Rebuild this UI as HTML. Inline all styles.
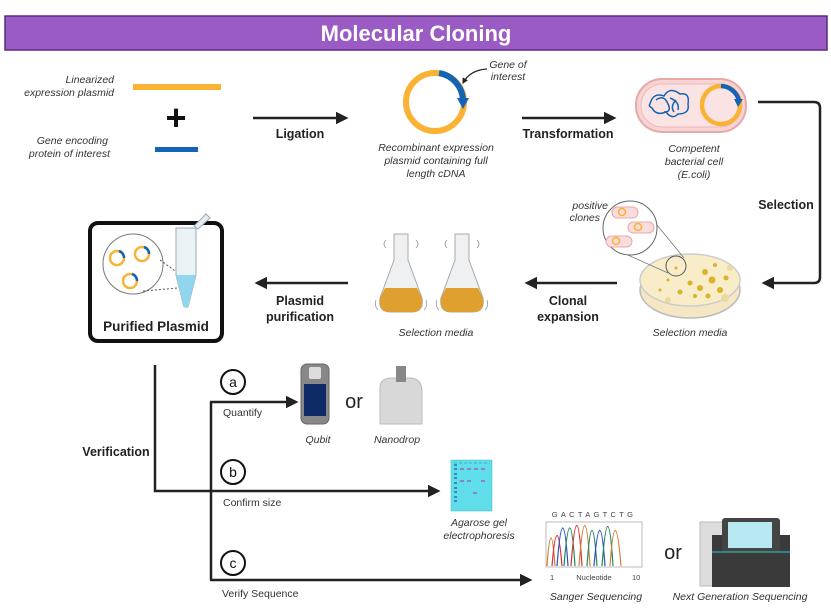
<!DOCTYPE html>
<html><head><meta charset="utf-8"><style>
html,body{margin:0;padding:0;background:#fff;}
svg{display:block;font-family:"Liberation Sans",sans-serif;}
.it{font-style:italic;font-size:10.5px;fill:#333;}
.b{font-weight:bold;font-size:12.5px;fill:#222;}
.s{font-size:10.5px;fill:#333;}
</style></head><body>
<svg width="831" height="614" viewBox="0 0 831 614" xmlns="http://www.w3.org/2000/svg">
<defs>
<marker id="ah" viewBox="0 0 10 10" refX="8" refY="5" markerWidth="5" markerHeight="5" orient="auto"><path d="M0,0 L10,5 L0,10 z" fill="#222"/></marker>
</defs>
<rect x="5" y="16" width="822" height="34" fill="#9b5bc4" stroke="#5b2c80" stroke-width="1.5"/>
<text x="416" y="41" text-anchor="middle" fill="#fff" font-weight="bold" font-size="22">Molecular Cloning</text>

<text class="it" x="114" y="83" text-anchor="end">Linearized</text>
<text class="it" x="114" y="96" text-anchor="end">expression plasmid</text>
<rect x="133" y="84" width="88" height="6" fill="#f9b233"/>
<text x="176" y="130" text-anchor="middle" font-size="36" font-weight="bold" fill="#111">+</text>
<text class="it" x="108" y="144" text-anchor="end">Gene encoding</text>
<text class="it" x="110" y="157" text-anchor="end">protein of interest</text>
<rect x="155" y="147" width="43" height="5" fill="#1464b4"/>

<line x1="253" y1="118" x2="346" y2="118" stroke="#222" stroke-width="2.5" marker-end="url(#ah)"/>
<text class="b" x="300" y="138" text-anchor="middle">Ligation</text>

<circle cx="435" cy="102" r="29" fill="none" stroke="#f9b233" stroke-width="6"/>
<path d="M439,73 A29,29 0 0 1 463,100" fill="none" stroke="#1464b4" stroke-width="6"/>
<path d="M457,98 L469,98 L463,109 z" fill="#1464b4"/>
<path d="M487,69 Q470,70 463,83" fill="none" stroke="#222" stroke-width="1.2" marker-end="url(#ah)"/>
<text class="it" x="508" y="68" text-anchor="middle">Gene of</text>
<text class="it" x="508" y="80" text-anchor="middle">interest</text>
<text class="it" x="436" y="151" text-anchor="middle">Recombinant expression</text>
<text class="it" x="436" y="164" text-anchor="middle">plasmid containing full</text>
<text class="it" x="436" y="177" text-anchor="middle">length cDNA</text>

<line x1="522" y1="118" x2="614" y2="118" stroke="#222" stroke-width="2.5" marker-end="url(#ah)"/>
<text class="b" x="568" y="138" text-anchor="middle">Transformation</text>

<rect x="636" y="79" width="110" height="53" rx="26" fill="#f7d3d3" stroke="#e8a8a8" stroke-width="2"/>
<rect x="641" y="84" width="100" height="43" rx="21" fill="#fbe3e3" stroke="#eeb8b8" stroke-width="1"/>
<g fill="none" stroke="#1464b4" stroke-width="1.5">
<path d="M650,104 q3,-12 14,-8 q6,-10 16,-2 q10,-2 8,10 q2,10 -10,10 q-6,6 -12,-2 q-10,4 -14,-4 q-4,-2 -2,-4 z"/>
<path d="M656,100 q8,-6 12,4 q4,8 -4,8 M670,98 q10,4 8,12 M676,100 q-6,6 -2,12"/>
</g>
<circle cx="721" cy="105" r="19" fill="none" stroke="#f9b233" stroke-width="4.5"/>
<path d="M721,86 A19,19 0 0 1 739,101" fill="none" stroke="#1464b4" stroke-width="4.5"/>
<path d="M734,99 L743,99 L738,107 z" fill="#1464b4"/>
<text class="it" x="694" y="152" text-anchor="middle">Competent</text>
<text class="it" x="694" y="165" text-anchor="middle">bacterial cell</text>
<text class="it" x="694" y="178" text-anchor="middle">(E.coli)</text>

<path d="M758,102 L814,102 Q820,102 820,108 L820,277 Q820,283 814,283 L764,283" fill="none" stroke="#222" stroke-width="2.5" marker-end="url(#ah)"/>
<text class="b" x="786" y="209" text-anchor="middle">Selection</text>

<ellipse cx="690" cy="290" rx="50" ry="28" fill="#f5e6c4" stroke="#bbb" stroke-width="1.5"/>
<ellipse cx="690" cy="280" rx="50" ry="26" fill="#f8ecc9" stroke="#ccc" stroke-width="1.5"/>
<g fill="#d9b32c">
<circle cx="705" cy="272" r="3"/><circle cx="712" cy="280" r="3.5"/><circle cx="700" cy="288" r="3"/><circle cx="690" cy="283" r="2.5"/><circle cx="720" cy="290" r="3"/><circle cx="680" cy="292" r="2.5"/><circle cx="668" cy="280" r="1.5"/><circle cx="715" cy="265" r="2"/><circle cx="695" cy="296" r="2"/><circle cx="676" cy="268" r="1.5"/><circle cx="726" cy="278" r="2.5"/><circle cx="660" cy="290" r="1.5"/><circle cx="708" cy="296" r="2.5"/>
</g>
<g fill="#ecd9a0"><circle cx="725" cy="298" r="4"/><circle cx="668" cy="300" r="3"/><circle cx="730" cy="268" r="3"/></g>
<circle cx="676" cy="266" r="10" fill="none" stroke="#555" stroke-width="1"/>
<line x1="610" y1="247" x2="668" y2="273" stroke="#777" stroke-width="0.8"/>
<line x1="648" y1="214" x2="684" y2="258" stroke="#777" stroke-width="0.8"/>
<circle cx="630" cy="228" r="27" fill="#fff" stroke="#666" stroke-width="1"/>
<g fill="#fadcdc" stroke="#e8a8a8" stroke-width="1">
<rect x="612" y="207" width="26" height="11" rx="5.5"/><rect x="628" y="222" width="26" height="11" rx="5.5"/><rect x="606" y="236" width="26" height="11" rx="5.5"/>
</g>
<g fill="none" stroke="#f9b233" stroke-width="1.5"><circle cx="622" cy="212" r="3.5"/><circle cx="638" cy="227" r="3.5"/><circle cx="616" cy="241" r="3.5"/></g>
<text class="it" x="608" y="209" text-anchor="end">positive</text>
<text class="it" x="600" y="221" text-anchor="end">clones</text>
<text class="it" x="690" y="336" text-anchor="middle">Selection media</text>

<line x1="617" y1="283" x2="527" y2="283" stroke="#222" stroke-width="2.5" marker-end="url(#ah)"/>
<text class="b" x="568" y="305" text-anchor="middle">Clonal</text>
<text class="b" x="568" y="321" text-anchor="middle">expansion</text>

<g>
<path d="M394,234 L408,234 L408,260 L422,298 Q424,312 412,312 L390,312 Q378,312 380,298 L394,260 z" fill="#eef0f2" stroke="#aaa" stroke-width="1"/>
<path d="M385,288 L417,288 L422,298 Q424,312 412,312 L390,312 Q378,312 380,298 z" fill="#e0a030"/>
<path d="M455,234 L469,234 L469,260 L483,298 Q485,312 473,312 L451,312 Q439,312 441,298 L455,260 z" fill="#eef0f2" stroke="#aaa" stroke-width="1"/>
<path d="M446,288 L478,288 L483,298 Q485,312 473,312 L451,312 Q439,312 441,298 z" fill="#e0a030"/>
<g fill="none" stroke="#999" stroke-width="0.8"><path d="M386,240 q-4,4 0,8 M416,240 q4,4 0,8 M447,240 q-4,4 0,8 M477,240 q4,4 0,8 M376,300 q-2,6 2,10 M426,300 q2,6 -2,10 M437,300 q-2,6 2,10 M487,300 q2,6 -2,10"/></g>
</g>
<text class="it" x="436" y="336" text-anchor="middle">Selection media</text>

<line x1="348" y1="283" x2="257" y2="283" stroke="#222" stroke-width="2.5" marker-end="url(#ah)"/>
<text class="b" x="300" y="305" text-anchor="middle">Plasmid</text>
<text class="b" x="300" y="321" text-anchor="middle">purification</text>

<rect x="90" y="223" width="132" height="118" rx="8" fill="#fff" stroke="#111" stroke-width="4"/>
<circle cx="133" cy="264" r="30" fill="#fff" stroke="#777" stroke-width="1"/>
<g fill="none" stroke="#f9b233" stroke-width="2.5"><circle cx="117" cy="258" r="7"/><circle cx="142" cy="254" r="7"/><circle cx="130" cy="281" r="7"/></g>
<g fill="none" stroke="#1464b4" stroke-width="2.5"><path d="M119,251 A7,7 0 0 1 124,258"/><path d="M144,247 A7,7 0 0 1 149,254"/><path d="M132,274 A7,7 0 0 1 137,281"/></g>
<line x1="160" y1="260" x2="178" y2="273" stroke="#555" stroke-dasharray="2,2"/>
<line x1="143" y1="291" x2="178" y2="288" stroke="#555" stroke-dasharray="2,2"/>
<path d="M176,228 L196,228 L196,275 L188,307 L184,307 L176,275 z" fill="#eaf2f6" stroke="#9ab" stroke-width="1"/>
<path d="M176,275 L196,275 L188,307 L184,307 z" fill="#8fd6ee"/>
<path d="M194,226 L206,214 L210,218 L198,229 z" fill="#e8eef0" stroke="#9ab"/>
<text x="156" y="331" text-anchor="middle" font-weight="bold" font-size="13.5" fill="#222">Purified Plasmid</text>

<path d="M155,365 L155,491 L438,491" fill="none" stroke="#222" stroke-width="2.5" marker-end="url(#ah)"/>
<text class="b" x="116" y="456" text-anchor="middle">Verification</text>
<path d="M211,402 L211,580" fill="none" stroke="#222" stroke-width="2.5"/>
<line x1="210" y1="402" x2="296" y2="402" stroke="#222" stroke-width="2.5" marker-end="url(#ah)"/>
<line x1="210" y1="580" x2="530" y2="580" stroke="#222" stroke-width="2.5" marker-end="url(#ah)"/>
<g fill="#fff" stroke="#111" stroke-width="2">
<circle cx="233" cy="382" r="12"/><circle cx="233" cy="472" r="12"/><circle cx="233" cy="563" r="12"/>
</g>
<g font-size="14" text-anchor="middle" fill="#111"><text x="233" y="387">a</text><text x="233" y="477">b</text><text x="233" y="568">c</text></g>
<text class="s" x="223" y="416">Quantify</text>
<text class="s" x="223" y="506">Confirm size</text>
<text class="s" x="222" y="597">Verify Sequence</text>

<rect x="301" y="364" width="28" height="60" rx="6" fill="#888" stroke="#666"/>
<rect x="309" y="367" width="12" height="12" rx="2" fill="#ddd"/>
<rect x="304" y="384" width="22" height="32" fill="#0e2a66"/>
<text x="354" y="408" text-anchor="middle" font-size="20" fill="#222">or</text>
<path d="M380,388 Q380,378 392,378 L410,378 Q422,378 422,392 L422,424 L380,424 z" fill="#d8d8d8" stroke="#bbb"/>
<rect x="396" y="366" width="10" height="16" fill="#888"/>
<text class="it" x="318" y="443" text-anchor="middle">Qubit</text>
<text class="it" x="397" y="443" text-anchor="middle">Nanodrop</text>

<rect x="451" y="460" width="41" height="51" fill="#5fdde8" stroke="#4bc" stroke-width="0.5"/>
<g stroke="#1a5aa8" stroke-width="1.2"><path d="M454,465h3M454,469h3M454,474h3M454,478h3M454,483h3M454,488h3M454,492h3M454,497h3M454,501h3"/></g>
<g stroke="#a050b8" stroke-width="1.2"><path d="M460,469h4M467,469h4M474,469h4M481,469h4M460,481h4M467,481h4M481,481h4M473,493h4"/></g>
<g stroke="#3aa" stroke-width="0.8" stroke-dasharray="3,2"><path d="M454,463h36"/></g>
<text class="it" x="479" y="526" text-anchor="middle">Agarose gel</text>
<text class="it" x="479" y="539" text-anchor="middle">electrophoresis</text>

<text x="594" y="517" text-anchor="middle" font-size="7.5" letter-spacing="3.3" fill="#444">GACTAGTCTG</text>
<rect x="546" y="522" width="96" height="45" fill="#fff" stroke="#bbb"/>
<g fill="none" stroke-width="1.2">
<path d="M547,566 Q551,510 555,566" stroke="#c8863a"/>
<path d="M552,566 Q557,505 562,566" stroke="#e03030"/>
<path d="M557,566 Q563,490 568,566" stroke="#3050c8"/>
<path d="M564,566 Q570,490 575,566" stroke="#208860"/>
<path d="M571,566 Q577,485 582,566" stroke="#e03030"/>
<path d="M579,566 Q585,485 590,566" stroke="#c8863a"/>
<path d="M587,566 Q592,495 597,566" stroke="#208860"/>
<path d="M594,566 Q600,495 605,566" stroke="#3050c8"/>
<path d="M602,566 Q608,487 613,566" stroke="#208860"/>
<path d="M610,566 Q615,495 621,566" stroke="#c8863a"/>
</g>
<text x="550" y="580" font-size="7.5" fill="#444">1</text>
<text x="594" y="580" text-anchor="middle" font-size="7.5" fill="#444">Nucleotide</text>
<text x="632" y="580" font-size="7.5" fill="#444">10</text>
<text class="it" x="596" y="600" text-anchor="middle">Sanger Sequencing</text>
<text x="673" y="559" text-anchor="middle" font-size="20" fill="#222">or</text>
<rect x="700" y="522" width="30" height="64" fill="#ddd" stroke="#bbb"/>
<rect x="712" y="535" width="78" height="52" fill="#3a3a3a"/>
<rect x="722" y="518" width="58" height="34" rx="3" fill="#444"/>
<rect x="728" y="522" width="44" height="26" fill="#b8e8f2"/>
<line x1="712" y1="552" x2="790" y2="552" stroke="#3cc" stroke-width="1"/>
<text class="it" x="740" y="600" text-anchor="middle">Next Generation Sequencing</text>
</svg>
</body></html>
